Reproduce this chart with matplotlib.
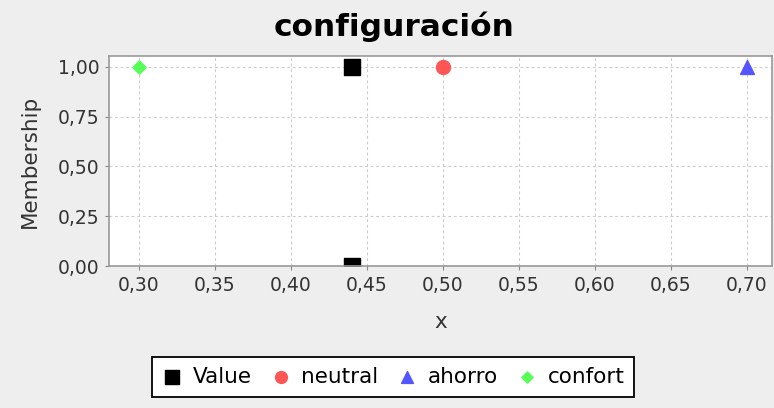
import matplotlib.pyplot as plt
from matplotlib.ticker import FuncFormatter

# data
value_x = [0.44, 0.44]
value_y = [1.0, 0.0]
neutral_x = [0.50]
neutral_y = [1.0]
ahorro_x = [0.70]
ahorro_y = [1.0]
confort_x = [0.30]
confort_y = [1.0]

xticks = [0.30, 0.35, 0.40, 0.45, 0.50, 0.55, 0.60, 0.65, 0.70]
yticks = [0.0, 0.25, 0.5, 0.75, 1.0]

fig = plt.figure(figsize=(7.74, 4.08), dpi=100, facecolor='#eeeeee')
ax = fig.add_axes([109/774, 142/408, 663/774, 210/408])
ax.set_facecolor('white')

pts = [
    ax.scatter(value_x, value_y, marker='s', s=125, color='black', label='Value', zorder=3),
    ax.scatter(neutral_x, neutral_y, marker='o', s=100, color='#ff5555', label='neutral', zorder=3),
    ax.scatter(ahorro_x, ahorro_y, marker='^', s=100, color='#5555ff', label='ahorro', zorder=3),
    ax.scatter(confort_x, confort_y, marker='D', s=45, color='#55ff55', label='confort', zorder=3),
]
for p in pts:
    p.set_clip_path(ax.patch)

ax.set_xlim(0.2803, 0.7165)
ax.set_ylim(0, 1.054)
ax.set_xticks(xticks)
ax.set_yticks(yticks)
fmt = FuncFormatter(lambda v, p: ('%.2f' % v).replace('.', ','))
ax.xaxis.set_major_formatter(fmt)
ax.yaxis.set_major_formatter(fmt)
ax.tick_params(labelsize=13.5, colors='#888888', labelcolor='#333333', length=3, pad=4)
ax.grid(True, color='#cccccc', linestyle=(0, (2.5, 2.5)), linewidth=0.8)
ax.set_axisbelow(True)
for s in ax.spines.values():
    s.set_color('#999999')
    s.set_linewidth(1.2)
    s.set_zorder(4)

ax.set_xlabel('x', fontsize=15.5, color='#333333')
ax.set_ylabel('Membership', fontsize=15.5, color='#333333')
ax.xaxis.set_label_coords(0.5, (266 - 322) / 210)
ax.xaxis.label.set_va('center')
ax.yaxis.set_label_coords((30 - 109) / 663, 0.5)
ax.yaxis.label.set_va('center')
fig.text(394/774, 1 - 12/408, 'configuración', fontsize=22.5, fontweight='bold',
         ha='center', va='top')

leg = fig.legend(loc='center', bbox_to_anchor=(393/774, 1 - 377/408), ncol=4,
                 fontsize=15.5, frameon=True, fancybox=False, handletextpad=0.45,
                 columnspacing=0.85, handlelength=1.0, borderpad=0.45,
                 markerscale=0.85, framealpha=1)
leg.get_frame().set_edgecolor('black')
leg.get_frame().set_linewidth(1.3)

fig.savefig('out.png', dpi=100, facecolor=fig.get_facecolor())
